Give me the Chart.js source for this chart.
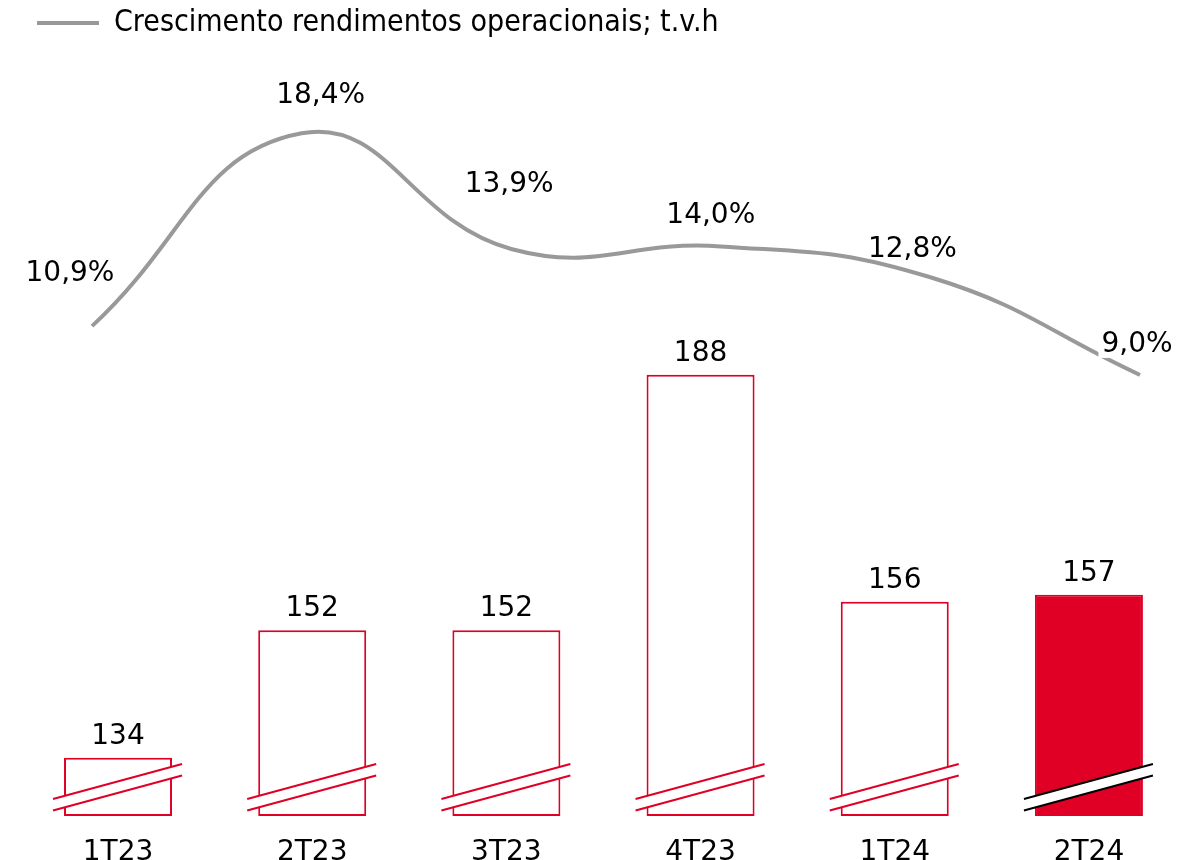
<!DOCTYPE html>
<html>
<head>
<meta charset="utf-8">
<script src="https://cdn.jsdelivr.net/npm/chart.js@4.4.1/dist/chart.umd.min.js"></script>
<style>
  html, body { margin: 0; padding: 0; background: #fff; }
  #wrap { width: 1180px; height: 860px; }
</style>
</head>
<body>
<div id="wrap"><canvas id="myChart" width="1180" height="860"></canvas></div>
<script>
// data
var quarters = ['1T23', '2T23', '3T23', '4T23', '1T24', '2T24'];
var income = [134, 152, 152, 188, 156, 157];
var growth = [10.9, 18.4, 13.9, 14.0, 12.8, 9.0];
var lineName = 'Crescimento rendimentos operacionais; t.v.h';

// axis ranges (bar axis is broken, it does not start at zero)
var barAxisMin = 125.8, barAxisMax = 234.08;
var lineAxisMin = -8.16, lineAxisMax = 21.72;

// styles
var red = '#E00025';
var grey = '#999999';
var barFills = ['#ffffff', '#ffffff', '#ffffff', '#ffffff', '#ffffff', red];
var breakColors = [red, red, red, red, red, '#000000'];
var numFont = "'DejaVu Sans', sans-serif";
var legendFont = "'Liberation Sans Narrow', 'DejaVu Sans Condensed', sans-serif";
// label offsets (px) from each line point, and whether the label knocks out the line
var lineLabelOffsets = [[-22, -45], [19, -30], [-2, -57], [-10, -23], [-18, -20], [-3, -23]];
var lineLabelBg = [false, false, false, false, false, true];

function fmtPct(v) {
  return v.toFixed(1).replace('.', ',') + '%';
}

var labelsPlugin = {
  id: 'labels',
  afterDatasetsDraw: function (chart) {
    var ctx = chart.ctx;
    var bars = chart.getDatasetMeta(0).data;
    var pts = chart.getDatasetMeta(1).data;

    // broken-axis marks on the bars
    bars.forEach(function (bar, i) {
      var left = bar.x - bar.width / 2;
      var right = bar.x + bar.width / 2;
      var x1 = left - 11, x2 = right + 10;
      var y1 = bar.base - 17, y2 = bar.base - 52, gap = 11.5;
      ctx.save();
      ctx.beginPath();
      ctx.moveTo(x1, y1);
      ctx.lineTo(x2, y2);
      ctx.lineTo(x2, y2 + gap);
      ctx.lineTo(x1, y1 + gap);
      ctx.closePath();
      ctx.fillStyle = '#ffffff';
      ctx.fill();
      ctx.strokeStyle = breakColors[i];
      ctx.lineWidth = 2;
      ctx.beginPath();
      ctx.moveTo(x1, y1);
      ctx.lineTo(x2, y2);
      ctx.moveTo(x1, y1 + gap);
      ctx.lineTo(x2, y2 + gap);
      ctx.stroke();
      ctx.restore();
    });

    ctx.save();
    ctx.font = '28px ' + numFont;
    ctx.fillStyle = '#000';
    ctx.textAlign = 'center';
    ctx.textBaseline = 'alphabetic';
    bars.forEach(function (bar, i) {
      ctx.fillText(String(income[i]), bar.x, bar.y - 14);
    });
    pts.forEach(function (p, i) {
      var txt = fmtPct(growth[i]);
      var tx = p.x + lineLabelOffsets[i][0];
      var ty = p.y + lineLabelOffsets[i][1];
      if (lineLabelBg[i]) {
        var w = ctx.measureText(txt).width;
        ctx.fillStyle = '#fff';
        ctx.fillRect(tx - w / 2 - 3, ty - 24, w + 6, 30);
      }
      ctx.fillStyle = '#000';
      ctx.fillText(txt, tx, ty);
    });
    ctx.restore();
  }
};

var ctx1 = document.getElementById('myChart');
new Chart(ctx1, {
  data: {
    labels: quarters,
    datasets: [{
      type: 'bar',
      label: 'Rendimentos',
      data: income.map(function (v, i) { return { x: i, y: v }; }),
      xAxisID: 'x',
      yAxisID: 'y',
      base: barAxisMin,
      backgroundColor: barFills,
      borderColor: red,
      borderWidth: 2,
      borderSkipped: false,
      grouped: false,
      categoryPercentage: 1,
      barPercentage: 0.6,
      maxBarThickness: 108,
      clip: false,
      order: 2
    }, {
      type: 'line',
      label: lineName,
      data: growth,
      xAxisID: 'xl',
      yAxisID: 'yl',
      borderColor: grey,
      backgroundColor: grey,
      borderWidth: 4,
      tension: 0.45,
      pointRadius: 0,
      fill: false,
      order: 1
    }]
  },
  options: {
    responsive: false,
    animation: false,
    layout: { padding: { left: 29, right: 0, top: 0, bottom: 0 } },
    scales: {
      x: {
        type: 'linear',
        min: -0.134,
        max: 5.263,
        offset: false,
        grid: { display: false, offset: false },
        border: { display: false },
        afterBuildTicks: function (scale) {
          scale.ticks = quarters.map(function (q, i) { return { value: i }; });
        },
        afterFit: function (scale) { scale.height = 44; },
        ticks: {
          autoSkip: false,
          maxRotation: 0,
          padding: 12,
          color: '#000',
          font: { size: 28, family: numFont },
          callback: function (v) { return quarters[v]; }
        }
      },
      xl: {
        type: 'category',
        display: false,
        offset: false
      },
      y: {
        position: 'left',
        min: barAxisMin,
        max: barAxisMax,
        grid: { display: false },
        border: { display: false },
        ticks: { display: false },
        afterFit: function (scale) { scale.width = 63; }
      },
      yl: {
        position: 'right',
        min: lineAxisMin,
        max: lineAxisMax,
        grid: { display: false },
        border: { display: false },
        ticks: { display: false },
        afterFit: function (scale) { scale.width = 40; }
      }
    },
    plugins: {
      tooltip: { enabled: false },
      legend: {
        position: 'top',
        align: 'start',
        labels: {
          boxWidth: 62,
          boxHeight: 4,
          padding: 8,
          color: '#000',
          font: { size: 30, family: legendFont },
          generateLabels: function (chart) {
            return [{
              text: lineName,
              fillStyle: grey,
              strokeStyle: grey,
              lineWidth: 0,
              datasetIndex: 1,
              hidden: false
            }];
          }
        }
      }
    }
  },
  plugins: [labelsPlugin]
});
</script>
</body>
</html>
